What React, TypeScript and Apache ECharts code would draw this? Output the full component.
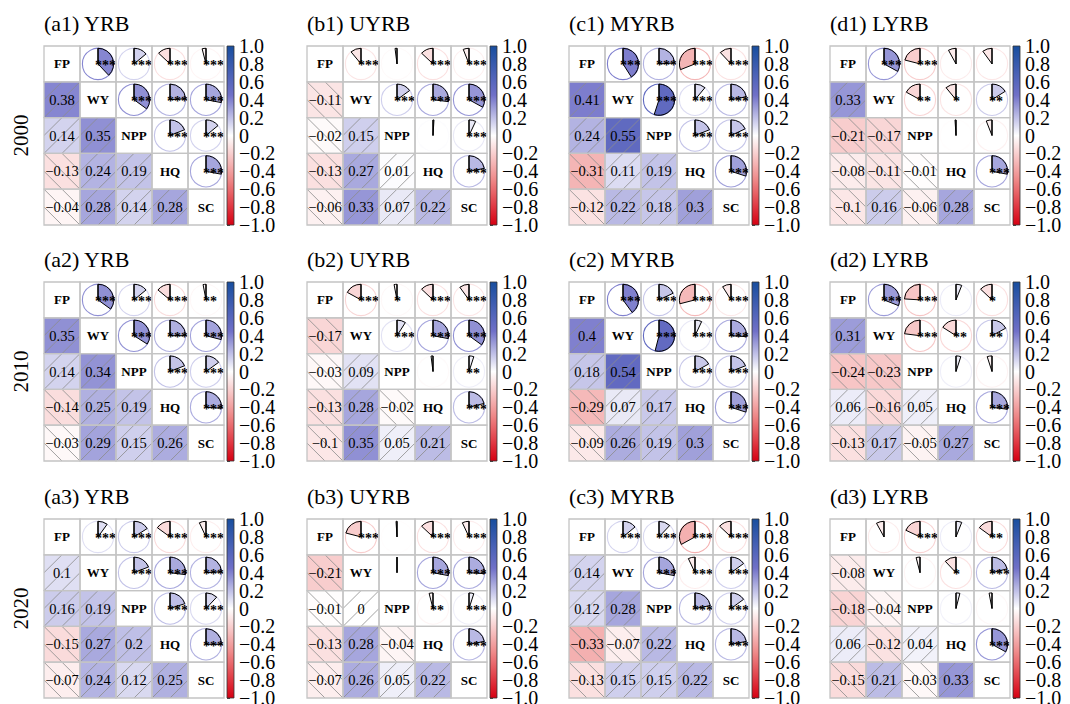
import React, { useEffect, useRef } from 'react';
import * as echarts from 'echarts';

const FONT = 'Liberation Serif';

const VARS = ['FP', 'WY', 'NPP', 'HQ', 'SC'];
const REGIONS = ['YRB', 'UYRB', 'MYRB', 'LYRB'];
const LETTERS = ['a', 'b', 'c', 'd'];
const YEARS = ['2000', '2010', '2020'];
const CB_TICKS = [1, 0.8, 0.6, 0.4, 0.2, 0, -0.2, -0.4, -0.6, -0.8, -1];

// order of the lower-triangle pairs [row, col]
const PAIRS = [[1, 0], [2, 0], [2, 1], [3, 0], [3, 1], [3, 2], [4, 0], [4, 1], [4, 2], [4, 3]];

// correlation values, in PAIRS order
const YRB_2000 = [0.38, 0.14, 0.35, -0.13, 0.24, 0.19, -0.04, 0.28, 0.14, 0.28];
const UYRB_2000 = [-0.11, -0.02, 0.15, -0.13, 0.27, 0.01, -0.06, 0.33, 0.07, 0.22];
const MYRB_2000 = [0.41, 0.24, 0.55, -0.31, 0.11, 0.19, -0.12, 0.22, 0.18, 0.3];
const LYRB_2000 = [0.33, -0.21, -0.17, -0.08, -0.11, -0.01, -0.1, 0.16, -0.06, 0.28];
const YRB_2010 = [0.35, 0.14, 0.34, -0.14, 0.25, 0.19, -0.03, 0.29, 0.15, 0.26];
const UYRB_2010 = [-0.17, -0.03, 0.09, -0.13, 0.28, -0.02, -0.1, 0.35, 0.05, 0.21];
const MYRB_2010 = [0.4, 0.18, 0.54, -0.29, 0.07, 0.17, -0.09, 0.26, 0.19, 0.3];
const LYRB_2010 = [0.31, -0.24, -0.23, 0.06, -0.16, 0.05, -0.13, 0.17, -0.05, 0.27];
const YRB_2020 = [0.1, 0.16, 0.19, -0.15, 0.27, 0.2, -0.07, 0.24, 0.12, 0.25];
const UYRB_2020 = [-0.21, -0.01, 0, -0.13, 0.28, -0.04, -0.07, 0.26, 0.05, 0.22];
const MYRB_2020 = [0.14, 0.12, 0.28, -0.33, -0.07, 0.22, -0.13, 0.15, 0.15, 0.22];
const LYRB_2020 = [-0.08, -0.18, -0.04, 0.06, -0.12, 0.04, -0.15, 0.21, -0.03, 0.33];

// significance marks, in PAIRS order
const YRB_2000_SIG = ['***', '***', '***', '***', '***', '***', '***', '***', '***', '***'];
const UYRB_2000_SIG = ['***', '', '***', '***', '***', '', '***', '***', '***', '***'];
const MYRB_2000_SIG = ['***', '***', '***', '***', '***', '***', '***', '***', '***', '***'];
const LYRB_2000_SIG = ['***', '***', '**', '', '*', '', '', '**', '', '***'];
const YRB_2010_SIG = ['***', '***', '***', '***', '***', '***', '**', '***', '***', '***'];
const UYRB_2010_SIG = ['***', '*', '***', '***', '***', '', '***', '***', '**', '***'];
const MYRB_2010_SIG = ['***', '***', '***', '***', '***', '***', '***', '***', '***', '***'];
const LYRB_2010_SIG = ['***', '***', '***', '', '**', '', '*', '**', '', '***'];
const YRB_2020_SIG = ['***', '***', '***', '***', '***', '***', '***', '***', '***', '***'];
const UYRB_2020_SIG = ['***', '', '', '***', '***', '**', '***', '***', '***', '***'];
const MYRB_2020_SIG = ['***', '***', '***', '***', '***', '***', '***', '***', '***', '***'];
const LYRB_2020_SIG = ['', '***', '', '', '*', '', '**', '***', '', '***'];

const VALUES = [
  [YRB_2000, UYRB_2000, MYRB_2000, LYRB_2000],
  [YRB_2010, UYRB_2010, MYRB_2010, LYRB_2010],
  [YRB_2020, UYRB_2020, MYRB_2020, LYRB_2020],
];
const SIGS = [
  [YRB_2000_SIG, UYRB_2000_SIG, MYRB_2000_SIG, LYRB_2000_SIG],
  [YRB_2010_SIG, UYRB_2010_SIG, MYRB_2010_SIG, LYRB_2010_SIG],
  [YRB_2020_SIG, UYRB_2020_SIG, MYRB_2020_SIG, LYRB_2020_SIG],
];

// layout
const COL_X = [44, 307, 569, 830];
const ROW_Y = [46, 282, 519];
const MAT_W = 180;
const MAT_H = 179;
const CB_GAP = 3;
const CB_W = 7;

const NEG: [number, number[]][] = [[0, [255, 255, 255]], [0.5, [238, 135, 135]], [1, [214, 0, 18]]];
const POS: [number, number[]][] = [[0, [255, 255, 255]], [0.45, [112, 112, 200]], [1, [24, 78, 158]]];

function cmap(v: number): string {
  const stops = v < 0 ? NEG : POS;
  const a = Math.min(1, Math.abs(v));
  for (let i = 1; i < stops.length; i++) {
    if (a <= stops[i][0]) {
      const [p0, c0] = stops[i - 1];
      const [p1, c1] = stops[i];
      const t = (a - p0) / (p1 - p0);
      const c = c0.map((x, k) => Math.round(x + (c1[k] - x) * t));
      return `rgb(${c[0]},${c[1]},${c[2]})`;
    }
  }
  const c = stops[stops.length - 1][1];
  return `rgb(${c[0]},${c[1]},${c[2]})`;
}

function fmt(v: number): string {
  if (v === 0) return '0';
  const s = String(Math.abs(v));
  return v < 0 ? '\u2212' + s : s;
}

function pairIndex(a: number, b: number): number {
  const hi = Math.max(a, b);
  const lo = Math.min(a, b);
  return PAIRS.findIndex((p) => p[0] === hi && p[1] === lo);
}

function txt(x: number, y: number, text: string, size: number, align: string, weight = 'normal') {
  return {
    type: 'text',
    x,
    y,
    style: {
      text,
      fill: '#000',
      fontSize: size,
      fontFamily: FONT,
      fontWeight: weight,
      align,
      verticalAlign: 'middle',
      textAlign: align,
      textVerticalAlign: 'middle',
    },
  };
}

function makeMatrixRender(cells: any[]) {
  return (params: any, api: any) => {
    const cell = cells[params.dataIndex];
    const c = api.coord([cell.col, cell.row]);
    const s = api.size([1, 1]);
    const w = s[0];
    const h = s[1];
    const cx = c[0];
    const cy = c[1];
    const x0 = cx - w / 2;
    const y0 = cy - h / 2;
    const ch: any[] = [];
    const v = cell.value;
    if (cell.row > cell.col) {
      ch.push({ type: 'rect', shape: { x: x0, y: y0, width: w, height: h }, style: { fill: cmap(v) } });
      const segs =
        v >= 0
          ? [
              [x0, y0 + h, x0 + w, y0],
              [x0 + w / 2, y0 + h, x0 + w, y0 + h / 2],
              [x0, y0 + h / 2, x0 + w / 2, y0],
            ]
          : [
              [x0, y0, x0 + w, y0 + h],
              [x0 + w / 2, y0, x0 + w, y0 + h / 2],
              [x0, y0 + h / 2, x0 + w / 2, y0 + h],
            ];
      segs.forEach((sg) =>
        ch.push({
          type: 'line',
          shape: { x1: sg[0], y1: sg[1], x2: sg[2], y2: sg[3] },
          style: { stroke: 'rgba(140,140,140,0.8)', lineWidth: 1 },
        })
      );
      ch.push(txt(cx, cy, fmt(v), 14.5, 'center'));
    } else if (cell.row === cell.col) {
      ch.push({ type: 'rect', shape: { x: x0, y: y0, width: w, height: h }, style: { fill: '#fff' } });
      ch.push(txt(cx, cy, VARS[cell.row], 13, 'center', 'bold'));
    } else {
      const R = Math.min(w, h) / 2 - 2.3;
      ch.push({ type: 'rect', shape: { x: x0, y: y0, width: w, height: h }, style: { fill: '#fff' } });
      ch.push({
        type: 'circle',
        shape: { cx, cy, r: R },
        style: { fill: 'none', stroke: cmap(v), lineWidth: 1.1 },
      });
      const top = -Math.PI / 2;
      const sweep = 2 * Math.PI * v;
      const startAngle = v >= 0 ? top : top + sweep;
      const endAngle = v >= 0 ? top + sweep : top;
      ch.push({
        type: 'sector',
        shape: { cx, cy, r: R, r0: 0, startAngle, endAngle, clockwise: true },
        style: { fill: cmap(v), stroke: '#000', lineWidth: 1 },
      });
      ch.push({
        type: 'line',
        shape: { x1: cx, y1: cy, x2: cx, y2: cy - R },
        style: { stroke: '#000', lineWidth: 1.2 },
      });
      if (cell.sig) ch.push(txt(cx - 3, cy + 2, cell.sig, 14, 'left', 'bold'));
    }
    ch.push({
      type: 'rect',
      z2: 10,
      shape: { x: x0, y: y0, width: w, height: h },
      style: { fill: 'none', stroke: '#c4c4c4', lineWidth: 1.3 },
    });
    return { type: 'group', children: ch };
  };
}

function cbRender(params: any, api: any) {
  const p1 = api.coord([0, 1]);
  const p2 = api.coord([1, -1]);
  const stops: any[] = [];
  for (let k = 0; k <= 40; k++) {
    stops.push({ offset: k / 40, color: cmap(1 - k / 20) });
  }
  return {
    type: 'rect',
    shape: { x: p1[0], y: p1[1], width: p2[0] - p1[0], height: p2[1] - p1[1] },
    style: {
      fill: new echarts.graphic.LinearGradient(0, 0, 0, 1, stops),
      stroke: '#333',
      lineWidth: 0.8,
    },
  };
}

function cbLabel(v: number): string {
  const r = Math.round(v * 10) / 10;
  if (r === 0) return '0';
  const s = Math.abs(r).toFixed(1);
  return r < 0 ? '\u2212' + s : s;
}

function cbLabelRender(params: any, api: any) {
  const v = CB_TICKS[params.dataIndex];
  const p = api.coord([1, v]);
  return txt(p[0] + 5, p[1], cbLabel(v), 20, 'left');
}

function buildOption() {
  const grids: any[] = [];
  const xAxes: any[] = [];
  const yAxes: any[] = [];
  const series: any[] = [];
  const graphics: any[] = [];

  for (let r = 0; r < YEARS.length; r++) {
    graphics.push({
      type: 'text',
      x: 21,
      y: ROW_Y[r] + MAT_H / 2,
      rotation: Math.PI / 2,
      style: {
        text: YEARS[r],
        fill: '#000',
        fontSize: 21,
        fontFamily: FONT,
        align: 'center',
        verticalAlign: 'middle',
        textAlign: 'center',
        textVerticalAlign: 'middle',
      },
    });
    for (let c = 0; c < REGIONS.length; c++) {
      const vals = VALUES[r][c];
      const sigs = SIGS[r][c];
      const cells: any[] = [];
      for (let row = 0; row < VARS.length; row++) {
        for (let col = 0; col < VARS.length; col++) {
          if (row === col) {
            cells.push({ row, col, value: 1, sig: '' });
          } else {
            const k = pairIndex(row, col);
            cells.push({ row, col, value: vals[k], sig: sigs[k] });
          }
        }
      }
      const gi = grids.length;
      grids.push({ left: COL_X[c], top: ROW_Y[r], width: MAT_W, height: MAT_H, outerBoundsMode: 'none' });
      xAxes.push({ gridIndex: gi, type: 'category', data: VARS, show: false });
      yAxes.push({ gridIndex: gi, type: 'category', data: VARS, inverse: true, show: false });
      series.push({
        type: 'custom',
        xAxisIndex: gi,
        yAxisIndex: gi,
        silent: true,
        clip: false,
        data: cells.map((cl) => [cl.col, cl.row]),
        renderItem: makeMatrixRender(cells),
      });

      const cbi = grids.length;
      grids.push({
        left: COL_X[c] + MAT_W + CB_GAP,
        top: ROW_Y[r],
        width: CB_W,
        height: MAT_H,
        outerBoundsMode: 'none',
      });
      xAxes.push({ gridIndex: cbi, type: 'value', min: 0, max: 1, show: false });
      yAxes.push({
        gridIndex: cbi,
        type: 'value',
        min: -1,
        max: 1,
        interval: 0.2,
        position: 'right',
        axisLine: { show: false },
        splitLine: { show: false },
        axisTick: { show: true, length: 3, lineStyle: { color: '#222', width: 0.8 } },
        axisLabel: { show: false },
      });
      series.push({
        type: 'custom',
        xAxisIndex: cbi,
        yAxisIndex: cbi,
        silent: true,
        clip: false,
        data: [[0, 0]],
        renderItem: cbRender,
      });
      series.push({
        type: 'custom',
        xAxisIndex: cbi,
        yAxisIndex: cbi,
        silent: true,
        clip: false,
        data: CB_TICKS.map((t) => [1, t]),
        renderItem: cbLabelRender,
      });

      graphics.push({
        type: 'text',
        x: COL_X[c],
        y: ROW_Y[r] - 23,
        style: {
          text: `(${LETTERS[c]}${r + 1}) ${REGIONS[c]}`,
          fill: '#000',
          fontSize: 22,
          fontFamily: FONT,
          align: 'left',
          verticalAlign: 'middle',
          textAlign: 'left',
          textVerticalAlign: 'middle',
        },
      });
    }
  }

  return {
    animation: false,
    backgroundColor: '#fff',
    textStyle: { fontFamily: FONT },
    grid: grids,
    xAxis: xAxes,
    yAxis: yAxes,
    series,
    graphic: graphics,
  };
}

export default function App() {
  const ref = useRef<HTMLDivElement>(null);
  useEffect(() => {
    if (!ref.current) return;
    const chart = echarts.init(ref.current, null, { renderer: 'svg' });
    chart.setOption(buildOption() as any);
    return () => chart.dispose();
  }, []);
  return (
    <div
      ref={ref}
      style={{ position: 'fixed', left: 0, top: 0, width: 1070, height: 704 }}
    />
  );
}
